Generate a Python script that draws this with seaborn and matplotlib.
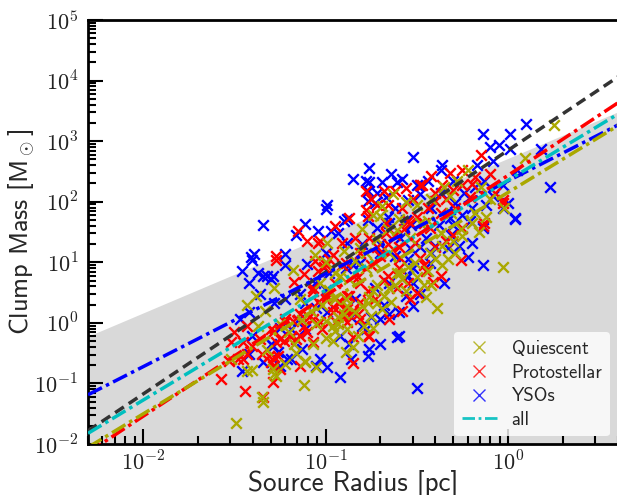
import numpy as np
import matplotlib
matplotlib.use('Agg')
import matplotlib.pyplot as plt
import matplotlib.ticker as mticker
import seaborn as sns

# values, in dex
yso_logr = [-0.52,-0.76,-0.85,-0.64,-0.58,-0.78,-0.76,-0.69,-0.61,-0.48,-0.99,-1.00,-0.88,-0.90,-0.77,-0.77,-0.55,-0.77,-1.04,-0.97,-0.93,-0.88,-0.72,-0.53,
            -1.34,-1.11,-1.16,-1.22,-1.39,-1.41,-1.00,-1.46,-1.37,-1.32,-1.30,-1.34,-1.29,-1.42,-1.22,-1.40,-1.10,-1.42,-1.47,-1.46,-1.34,-1.21,-1.25,-1.19,
            -1.13,-1.03,-1.05,-0.99,-0.92,-0.77,-0.61,-0.78,-0.99,-0.92,-1.11,-1.29,0.10,-0.14,0.01,-0.10,-0.05,0.01,-0.36,-0.08,0.18,0.23,0.04,0.00,
            -0.50,-0.17,-0.37,-0.03,0.05,-0.13,-0.21,-0.20,-0.14,-0.48,-0.52,-0.60,-0.60,-0.52,-0.55,-0.52,0.04,-0.14,-0.22,-0.27,-0.03,-0.14,-0.31,-0.40,
            -0.33,-0.50,-1.30,-0.67,-0.62,-0.73,-0.65,-0.59,-0.42,-0.37,-0.29,-0.24,-0.32,-0.45,-0.54,-0.70,-0.81,-0.89,-0.98,-1.06,-1.14,-1.22,-1.28,-0.84,
            -0.73,-0.65,-0.43,-0.35,-0.48,-0.70,-0.87,-0.76,-1.11,-1.19,-1.36,
            -0.85,-0.80,-0.70,-0.62,-0.55,-0.48,-0.42,-0.38,-0.30,-0.25,-0.20,-0.12,-0.08,-0.18,-0.30,-0.44,-0.56,-0.66,
            -0.72,-0.68,-0.75,-0.80,-0.86,-1.00,-1.05,-1.15,-1.25,-0.65,-0.56,-0.70,-0.86,-1.26,-1.42,-1.40]
yso_logm = [2.73,2.55,2.38,2.45,2.38,2.35,2.32,2.32,2.32,2.27,1.95,1.88,1.72,1.68,2.02,2.18,2.03,1.70,1.52,1.52,1.48,1.32,1.57,1.62,
            1.62,1.63,1.45,1.13,1.13,1.08,1.15,0.85,0.82,0.78,0.73,0.77,0.77,0.65,0.95,1.03,0.97,0.18,0.07,-0.80,-0.65,-0.60,-0.72,-0.60,
            -0.43,-0.60,-0.72,-0.73,-0.90,-0.55,-0.23,-0.10,0.18,-0.22,-0.10,-0.38,3.28,3.12,3.12,2.90,2.93,2.87,2.60,2.67,2.87,2.25,1.72,1.98,
            2.27,2.60,2.52,2.27,2.53,2.35,1.68,1.32,1.57,2.12,0.28,-0.22,0.18,0.65,0.78,0.90,1.73,0.95,1.08,1.27,1.90,1.60,1.45,1.27,
            1.23,-1.07,-0.35,2.07,1.90,1.98,1.65,1.40,1.90,2.15,1.98,2.15,1.73,1.40,1.23,1.15,0.98,0.90,0.82,0.65,0.48,0.40,0.32,0.40,
            0.57,0.65,0.98,0.65,0.48,0.07,-0.35,-0.43,0.32,-0.10,0.48,
            0.95,1.30,1.30,1.10,1.05,1.25,1.15,1.62,1.62,1.78,1.90,1.95,2.10,2.25,2.35,2.35,1.70,1.75,
            2.15,0.30,0.10,-0.05,0.10,0.55,0.25,0.05,-0.08,0.15,0.45,-0.35,-0.60,-0.48,-0.52,-0.22]

proto_logr = [-0.78,-0.68,-0.62,-0.47,-0.78,-0.77,-1.03,-0.91,-0.54,-0.66,-1.15,-1.27,-1.04,-0.96,-1.27,-1.17,-1.07,-1.50,-1.43,-1.57,-1.44,-1.29,-1.34,-1.23,
              -1.16,-1.09,-1.02,-0.85,-0.77,-0.85,-0.90,-0.82,-1.14,-1.35,-1.28,-1.29,-1.25,-1.45,-1.53,-1.06,-1.00,-1.07,-0.88,-0.93,-1.45,-0.15,-0.32,-0.42,
              -0.48,-0.25,-0.36,-0.25,-0.40,-0.07,-0.03,-0.13,-0.14,-0.55,-0.30,-0.56,-0.58,-0.76,-1.01,-0.87,-0.96,-0.61,-0.66,-0.45,-0.26,-0.37,-0.25,-0.03,
              -0.41,-0.76,-0.67,-0.59,-0.51,-0.43,-0.37,-0.29,-0.21,-0.81,-0.89,-0.95,-1.00,-1.14,-1.22,-1.30,-0.73,-0.81,-0.65,-0.54,-0.48,-0.87,
              -1.25,-1.19,-1.27,-1.14,-1.10,-1.07,-1.04,-0.99,-0.92,-0.88,-0.81,-0.77,-0.90,-0.85,-0.96,-0.94,-0.88,-0.81,-1.03,-1.07,-1.12,-1.18,-1.22,-1.28,
              -1.36,-1.40,-1.31,-1.26,-1.30,-1.43,-1.48,-1.52,-0.70,-0.72,-0.66,-0.62,-0.60,-0.57,-0.50,-0.46,-0.44,-0.40,-0.34,-0.30,-0.20,-0.18,-0.10,-0.75,
              -0.82,-0.91,-0.98,-1.04,-1.12,-0.68,-0.60,-0.55,-0.50,-0.46,-0.40,-0.34,-0.72,-0.75,-0.58,-0.52,-0.67,-0.84,-0.95,-1.10]
proto_logm = [2.18,2.18,2.18,2.27,1.87,1.77,1.35,1.32,1.65,1.95,1.52,1.10,1.32,1.12,1.03,0.68,0.53,-0.15,-0.05,-0.92,-1.13,-0.97,-1.22,-0.30,
              -0.27,0.10,-0.10,-0.67,-0.22,-0.23,0.23,0.15,-0.72,-0.52,-0.57,-0.72,-0.77,-0.32,-0.63,1.02,0.95,-0.32,0.02,0.35,-0.60,2.77,2.48,2.42,
              2.28,2.53,2.28,2.27,2.02,2.15,1.98,1.65,1.60,1.68,1.45,2.23,0.20,-0.22,0.93,0.45,0.27,0.57,0.77,0.85,1.03,0.78,1.57,2.03,
              0.68,1.40,1.48,1.07,1.32,1.57,1.82,1.90,2.07,1.15,0.98,0.65,0.40,0.15,0.07,-0.10,0.40,0.65,0.07,0.40,1.07,1.73,
              -0.27,-0.23,-0.32,-0.22,-0.15,0.57,0.35,0.45,0.35,0.45,0.35,0.52,0.12,0.20,0.18,0.02,0.23,0.07,0.02,0.07,-0.05,0.03,0.02,-0.13,
              -0.27,-0.38,-0.55,-0.55,-0.65,-0.52,-0.60,-0.32,1.10,1.25,1.30,1.45,1.25,1.55,1.75,1.65,1.90,2.15,2.05,2.20,2.30,2.40,2.45,0.95,
              0.75,0.95,1.05,0.85,0.80,0.70,0.90,0.65,0.50,0.95,1.25,1.35,1.95,2.05,1.90,2.05,1.65,1.40,1.60,1.35]

quiet_logr = [0.25,0.09,-0.02,-0.32,-0.22,-0.44,-0.03,-0.42,-0.25,-0.36,-0.69,-0.63,-0.99,-0.90,-0.61,-0.70,-0.45,-0.56,-0.65,-0.72,-0.77,-0.90,-0.93,-1.00,
              -1.05,-0.95,-0.88,-1.38,-1.28,-1.18,-1.43,-1.28,-1.11,-1.12,-1.35,-1.29,-1.37,-0.75,-0.69,-0.85,-0.96,-1.07,-0.61,-0.74,-0.95,-1.49,-1.34,-1.27,
              -1.40,-1.05,-1.11,-0.89,-1.52,-0.39,-0.81,-0.73,-0.65,-0.54,-0.48,-0.37,-0.87,-0.78,-0.95,-1.03,-1.14,-1.25,-1.17,-0.89,-0.59,-0.51,-0.31,-0.18,
              -0.43,-0.29,
              -0.93,-0.88,-0.84,-0.80,-0.76,-0.72,-0.68,-0.64,-0.62,-0.58,-0.55,-0.50,-0.46,-0.44,-0.40,-0.36,-0.33,-0.30,-0.26,-0.20,-0.16,-0.12,-0.10,-0.15,
              -0.28,-0.35,-0.42,-0.50,-0.56,-0.60,-0.66,-0.72,-0.78,-0.84,-0.92,-0.98,-1.02,-1.08,-1.13,-1.20,-1.00,-0.96,-0.82,-0.79,-0.74,-1.33,-1.43,-1.32,
              -1.22,-1.16,-1.00,-1.06,-0.80,-0.74]
quiet_logm = [3.27,2.72,1.90,2.10,2.52,1.68,0.93,0.62,1.43,1.27,1.93,2.12,1.32,1.18,1.53,1.77,0.43,0.52,0.57,0.32,0.32,0.15,-0.02,0.03,
              -0.02,-0.13,-0.10,0.45,0.57,0.87,-0.80,-0.85,-0.63,-1.02,-1.22,-0.77,-0.05,0.12,0.23,-0.40,-0.05,-0.35,0.82,0.52,0.40,-1.65,-1.30,-0.87,
              -0.78,-0.73,-0.65,-0.48,-0.60,0.25,1.23,0.98,1.15,1.40,1.65,1.48,0.73,0.90,0.82,0.65,0.40,-0.02,-0.35,0.40,0.82,0.98,1.82,1.82,
              1.15,1.15,
              0.10,0.28,0.18,0.28,0.42,0.62,0.45,0.35,0.62,0.72,0.92,0.75,0.62,0.85,1.05,0.95,1.05,1.35,1.55,1.65,1.50,1.75,2.05,2.25,
              2.35,2.25,2.05,1.95,2.00,1.72,1.55,1.38,1.15,1.02,0.78,0.55,0.30,0.20,0.05,-0.15,-0.25,-0.30,-0.22,-0.05,-0.08,0.20,0.30,-0.45,
              -0.68,-0.50,1.00,1.12,1.55,1.78]

# fit lines, both ends read at the axis limits
line_r = [0.005, 4.0]
fit_yso = [0.065, 1850]
fit_black = [0.0165, 11500]
fit_all = [0.015, 2800]
fit_proto = [0.0072, 4300]
fit_quiet = [0.0088, 1800]
limit_mass = [0.6, 3050]

sns.set_style('ticks')
plt.rcParams['font.family'] = 'cmss10'
plt.rcParams['mathtext.fontset'] = 'cm'
plt.rcParams['axes.unicode_minus'] = False
plt.rcParams['axes.edgecolor'] = 'black'
plt.rcParams['xtick.color'] = 'black'
plt.rcParams['ytick.color'] = 'black'


def power_label(val, pos):
    return r'$10^{%d}$' % round(np.log10(val))


fig = plt.figure(figsize=(6.17, 4.95), dpi=100)
ax = fig.add_axes([88 / 617, 51 / 495, 530 / 617, 424 / 495])
ax.set_xscale('log')
ax.set_yscale('log')

ax.fill_between(line_r, [0.01, 0.01], limit_mass, color='#d9d9d9', lw=0, zorder=0)

marks = dict(marker='x', s=58, linewidth=1.7, ax=ax, legend=False)
sns.scatterplot(x=10.0 ** np.array(yso_logr), y=10.0 ** np.array(yso_logm), color='#0000ff', zorder=2, **marks)
sns.scatterplot(x=10.0 ** np.array(proto_logr), y=10.0 ** np.array(proto_logm), color='#ff0000', zorder=3, **marks)
sns.scatterplot(x=10.0 ** np.array(quiet_logr), y=10.0 ** np.array(quiet_logm), color='#aaa800', zorder=4, **marks)

dashdot = (0, (4.5, 1.3, 1, 1.3))
sns.lineplot(x=line_r, y=fit_black, color='#333333', lw=2.5, ax=ax, zorder=5, linestyle=(0, (3, 1.7)), legend=False)
sns.lineplot(x=line_r, y=fit_yso, color='#0000ff', lw=2.5, ax=ax, zorder=5, linestyle=dashdot, legend=False)
sns.lineplot(x=line_r, y=fit_all, color='#00bfbf', lw=2.5, ax=ax, zorder=5, linestyle=dashdot, legend=False)
sns.lineplot(x=line_r, y=fit_proto, color='#ff0000', lw=2.5, ax=ax, zorder=5, linestyle=dashdot, legend=False)
sns.lineplot(x=line_r, y=fit_quiet, color='#aaa800', lw=2.5, ax=ax, zorder=6, linestyle=dashdot, legend=False)

ax.set_xlim(0.005, 4)
ax.set_ylim(0.01, 1e5)
ax.yaxis.set_major_locator(mticker.LogLocator(base=10, numticks=10))
ax.yaxis.set_minor_locator(mticker.LogLocator(base=10, subs=np.arange(2, 10), numticks=10))
ax.yaxis.set_minor_formatter(mticker.NullFormatter())
ax.xaxis.set_minor_formatter(mticker.NullFormatter())
ax.xaxis.set_major_formatter(mticker.FuncFormatter(power_label))
ax.yaxis.set_major_formatter(mticker.FuncFormatter(power_label))
ax.tick_params(which='major', direction='in', length=11, width=1.5, labelsize=16, labelcolor='#222222')
ax.tick_params(axis='x', which='major', pad=5)
ax.tick_params(axis='y', which='major', pad=7)
ax.tick_params(which='minor', direction='in', length=6, width=1.5)
for side in ax.spines.values():
    side.set_linewidth(2)
ax.set_xlabel('Source Radius [pc]', fontsize=19.5)
ax.xaxis.set_label_coords(0.5, -0.062)
ax.set_ylabel(r'Clump Mass [M$_\odot$]', fontsize=19)
ax.yaxis.set_label_coords(-0.096, 0.5)

handles = [plt.Line2D([], [], ls='', marker='x', ms=8, mew=1, color='#aaa800', alpha=0.8),
           plt.Line2D([], [], ls='', marker='x', ms=8, mew=1, color='#ff0000', alpha=0.8),
           plt.Line2D([], [], ls='', marker='x', ms=8, mew=1, color='#0000ff', alpha=0.8),
           plt.Line2D([], [], lw=2, color='#00bfbf', linestyle=dashdot, alpha=0.9)]
ax.legend(handles, ['Quiescent', 'Protostellar', 'YSOs', 'all'], loc='lower right', fontsize=13.5,
          framealpha=0.8, edgecolor='none', bbox_to_anchor=(0.985, 0.018), borderaxespad=0, labelspacing=0.3,
          handlelength=1.85, handletextpad=0.8, borderpad=0.4)

fig.savefig('out.png', dpi=100)
